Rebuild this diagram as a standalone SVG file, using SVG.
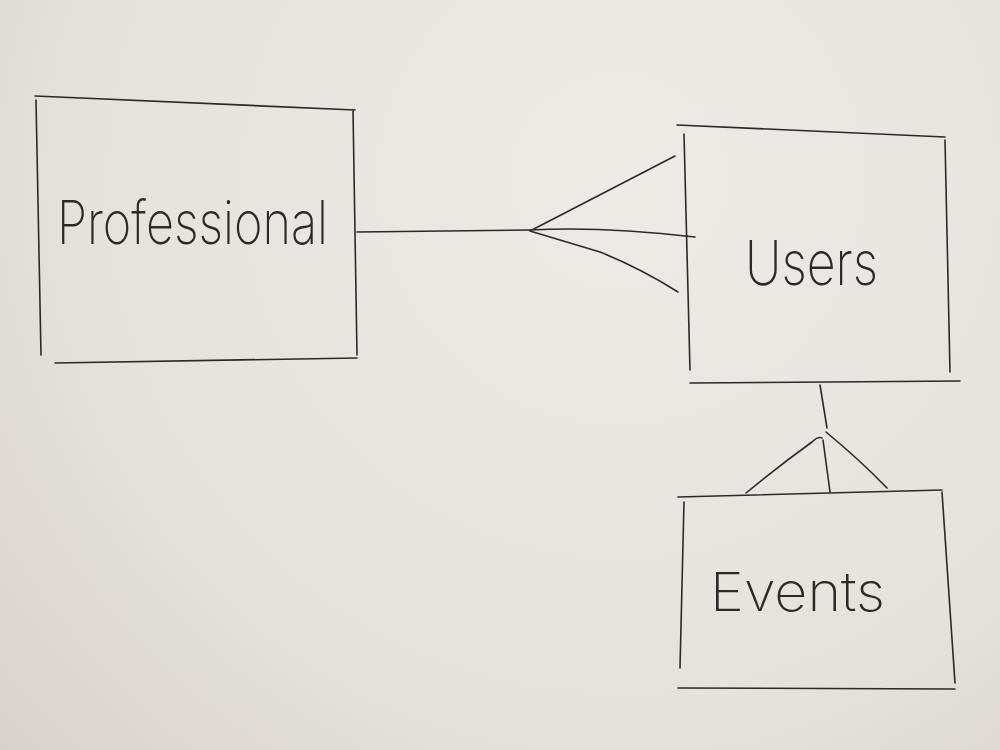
<svg xmlns="http://www.w3.org/2000/svg" width="1000" height="750" viewBox="0 0 1000 750">
<defs>
<radialGradient id="paper" cx="620" cy="180" r="900" gradientUnits="userSpaceOnUse">
<stop offset="0" stop-color="#eeebe7"/>
<stop offset="0.6" stop-color="#e5e1db"/>
<stop offset="1" stop-color="#d5d0c9"/>
</radialGradient>
<style>
.ink{fill:none;stroke:#2b2a29;stroke-width:1.6;stroke-linecap:round;stroke-linejoin:round}
.lbl{font-family:Inter,Lato,"Open Sans","Liberation Sans",sans-serif;font-weight:200;fill:#2b2a29}
</style>
</defs>
<rect width="1000" height="750" fill="url(#paper)"/>
<g id="professional">
<path class="ink" d="M35 96 L355 110 M36 100 L41 355 M353 110 L357 355 M55 363 L357 358"/>
<text class="lbl" x="57" y="244" font-size="60" textLength="271" lengthAdjust="spacingAndGlyphs">Professional</text>
</g>
<g id="users">
<path class="ink" d="M677 125 L945 137 M684 134 L690 370 M945 140 L950 372 M690 383 L960 381"/>
<text class="lbl" x="745" y="285" font-size="62" textLength="133" lengthAdjust="spacingAndGlyphs" fill="#444">Users</text>
</g>
<g id="events">
<path class="ink" d="M678 497 L942 490 M684 502 L680 668 M942 492 L955 683 M678 688 L955 689"/>
<text class="lbl" x="710" y="611" font-size="54" textLength="175" lengthAdjust="spacingAndGlyphs">Events</text>
</g>
<g id="connectors">
<path class="ink" d="M357 232 L530 230"/>
<path class="ink" d="M530 231 L675 156 M530 230 Q600 226 695 237 M530 231 Q560 240 600 252 Q640 268 678 292"/>
<path class="ink" d="M820 385 L827 428"/>
<path class="ink" d="M746 493 Q780 465 812 442 Q818 436 822 438 M823 440 L830 492 M826 432 Q860 460 887 488"/>
</g>
</svg>
